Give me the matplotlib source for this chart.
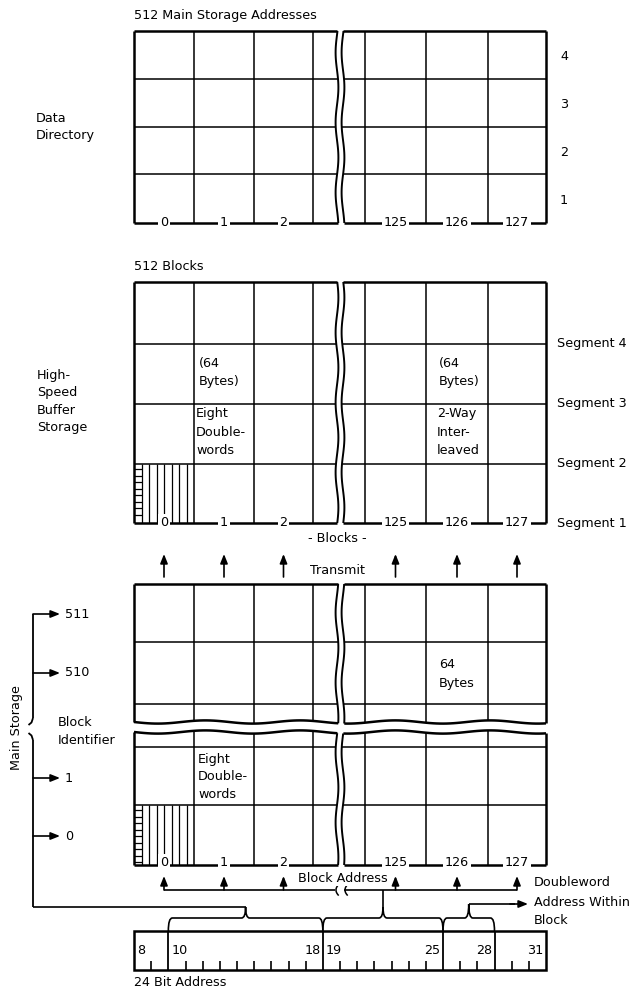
import numpy as np
import matplotlib.pyplot as plt
from matplotlib.path import Path
from matplotlib.patches import PathPatch

# ---- chart content ----
block_labels = ['0', '1', '2', '125', '126', '127']
directory_rows = ['4', '3', '2', '1']
segment_labels = ['Segment 4', 'Segment 3', 'Segment 2', 'Segment 1']
storage_rows = ['511', '510', '1', '0']
first_bit, last_bit = 8, 31
field_starts = [10, 19, 26, 29]
bit_numbers_left = [8, 10, 19]
bit_numbers_right = [18, 25, 28, 31]

# ---- layout (pixels, y grows downward) ----
W, H = 639, 994
XL, XR = 134, 546
cols_left = [134, 194, 254, 313]
cols_right = [365, 426, 488, 546]
WAVE_L, WAVE_R = 337, 343
LW_THICK = 1.8
LW_THIN = 1.1
FS = 9.2
FONT = 'DejaVu Sans'

fig = plt.figure(figsize=(W / 100, H / 100), dpi=100)
ax = fig.add_axes([0, 0, 1, 1])
ax.set_xlim(0, W)
ax.set_ylim(H, 0)
ax.axis('off')

plt.rcParams['font.family'] = FONT


def wave_x(x0, y):
    return x0 + 1.4 * np.sin(2 * np.pi * y / 70.0)


def wave_y(y0, x):
    return y0 + 1.6 * np.sin(2 * np.pi * (x - 134) / 95.0)


def line(xs, ys, lw=LW_THIN):
    ax.plot(xs, ys, color='black', lw=lw, solid_capstyle='butt')


def txt(x, y, s, ha='center', va='center', box=False, **kw):
    bbox = dict(fc='white', ec='none', pad=1.2) if box else None
    ax.text(x, y, s, ha=ha, va=va, fontsize=kw.pop('fontsize', FS),
            bbox=bbox, color='black', **kw)


def grid(y_top, y_bot, hlines, top_wave=False, bot_wave=False):
    def ytop(x):
        return wave_y(y_top, x) if top_wave else y_top

    def ybot(x):
        return wave_y(y_bot, x) if bot_wave else y_bot

    # horizontal lines (split by the vertical break)
    for y, lw, wv in [(y_top, LW_THICK, top_wave), (y_bot, LW_THICK, bot_wave)] + \
            [(h, LW_THIN, False) for h in hlines]:
        xa = np.linspace(XL, wave_x(WAVE_L, y), 60)
        xb = np.linspace(wave_x(WAVE_R, y), XR, 60)
        for xs in (xa, xb):
            ys = wave_y(y, xs) if wv else np.full_like(xs, y)
            line(xs, ys, lw)
    # vertical lines
    for x in cols_left + cols_right:
        lw = LW_THICK if x in (XL, XR) else LW_THIN
        line([x, x], [ytop(x), ybot(x)], lw)
    # wavy break
    for x0 in (WAVE_L, WAVE_R):
        ys = np.linspace(ytop(x0), ybot(x0), 80)
        line(wave_x(x0, ys), ys, LW_THIN + 0.3)


def centers():
    b = cols_left[:]
    c = [(b[i] + b[i + 1]) / 2 for i in range(3)]
    b = cols_right[:]
    c += [(b[i] + b[i + 1]) / 2 for i in range(3)]
    return c


def hatch(y0, y1):
    for k in range(1, 8):
        x = XL + 7.5 * k
        line([x, x], [y0, y1], 0.9)
    for y in np.arange(y0 + 5, y1 - 2, 6.5):
        line([XL, XL + 7.5], [y, y], 0.9)


def up_arrow(x, base, tip):
    ax.annotate('', xy=(x, tip), xytext=(x, base),
                arrowprops=dict(arrowstyle='-|>,head_length=0.55,head_width=0.22',
                                color='black', lw=1.2, shrinkA=0, shrinkB=0))


def right_arrow(x0, x1, y):
    ax.annotate('', xy=(x1, y), xytext=(x0, y),
                arrowprops=dict(arrowstyle='-|>,head_length=0.55,head_width=0.22',
                                color='black', lw=1.2, shrinkA=0, shrinkB=0))


def brace(x0, x1, xtip, ybase, ybar, ytip):
    r = 4
    verts = [(x0, ybase), (x0, ybar), (x0 + r, ybar),
             (xtip - r, ybar), (xtip, ybar), (xtip, ytip),
             (xtip, ytip), (xtip, ybar), (xtip + r, ybar),
             (x1 - r, ybar), (x1, ybar), (x1, ybase)]
    codes = [Path.MOVETO, Path.CURVE3, Path.CURVE3,
             Path.LINETO, Path.CURVE3, Path.CURVE3,
             Path.MOVETO, Path.CURVE3, Path.CURVE3,
             Path.LINETO, Path.CURVE3, Path.CURVE3]
    ax.add_patch(PathPatch(Path(verts, codes), fc='none', ec='black', lw=1.2))


cx = centers()

# ================= Data Directory =================
txt(XL, 15, '512 Main Storage Addresses', ha='left')
top_rows = [31, 79, 127, 174, 223]
grid(top_rows[0], top_rows[-1], top_rows[1:-1])
for lab, ya, yb in zip(directory_rows, top_rows[:-1], top_rows[1:]):
    txt(564, (ya + yb) / 2 + 2, lab)
for lab, x in zip(block_labels, cx):
    txt(x, 222, lab, box=True)
txt(36, 118, 'Data', ha='left')
txt(36, 136, 'Directory', ha='left')

# ================= High-Speed Buffer =================
txt(XL, 267, '512 Blocks', ha='left')
buf_rows = [282, 344, 404, 464, 523]
grid(buf_rows[0], buf_rows[-1], buf_rows[1:-1])
hatch(buf_rows[3], buf_rows[4])
for lab, y in zip(segment_labels, buf_rows[1:]):
    txt(557, y, lab, ha='left')
for lab, x in zip(block_labels, cx):
    txt(x, 522, lab, box=True)
txt(337, 539, '- Blocks -')
for i, s in enumerate(['High-', 'Speed', 'Buffer', 'Storage']):
    txt(37, 375 + 17.5 * i, s, ha='left')
for i, s in enumerate(['(64', 'Bytes)']):
    txt(199, 364 + 18 * i, s, ha='left')
    txt(439, 364 + 18 * i, s, ha='left')
for i, s in enumerate(['Eight', 'Double-', 'words']):
    txt(196, 414 + 18 * i, s, ha='left')
for i, s in enumerate(['2-Way', 'Inter-', 'leaved']):
    txt(437, 414 + 18 * i, s, ha='left')

# transmit arrows
for x in cx:
    up_arrow(x, 577, 554)
txt(337, 571, 'Transmit')

# ================= Main Storage =================
grid(584, 722, [642, 704], bot_wave=True)
grid(732, 865, [747, 805], top_wave=True)
hatch(805, 865)
for lab, x in zip(block_labels, cx):
    txt(x, 862, lab, box=True)
for i, s in enumerate(['64', 'Bytes']):
    txt(439, 664 + 19 * i, s, ha='left')
for i, s in enumerate(['Eight', 'Double-', 'words']):
    txt(198, 759 + 18 * i, s, ha='left')

# main storage bracket on the left
BX = 33
row_y = [614, 673, 778, 836]
line([BX, BX], [row_y[0], 718], 1.3)
line([BX, BX - 1.5, BX - 4.5], [718, 722.5, 725], 1.3)
line([BX - 4.5, BX - 1.5, BX], [733, 735.5, 740], 1.3)
line([BX, BX], [740, 907], 1.3)
for lab, y in zip(storage_rows, row_y):
    right_arrow(BX, 60, y)
    txt(65, y, lab, ha='left')
txt(17, 728, 'Main Storage', rotation=90)
txt(58, 722, 'Block', ha='left')
txt(58, 740, 'Identifier', ha='left')

# block address arrows
YA = 890
line([cx[0], WAVE_L - 2], [YA, YA], 1.2)
line([WAVE_R + 1, cx[-1]], [YA, YA], 1.2)
for x0 in (WAVE_L - 1, WAVE_R + 2):
    t = np.linspace(-1, 1, 20)
    ax.plot(x0 + 2.2 * t ** 2, YA + 5 * t, color='black', lw=1.1)
for x in cx:
    up_arrow(x, YA, 876)
txt(343, 878, 'Block Address', box=True)
txt(534, 883, 'Doubleword', ha='left')
txt(534, 902, 'Address Within', ha='left')
txt(534, 920, 'Block', ha='left')

# ================= 24 bit address register =================
RT, RB = 931, 970
bw = (XR - XL) / (last_bit - first_bit + 1)


def bit_x(b):
    return XL + (b - first_bit) * bw


ax.add_patch(plt.Rectangle((XL, RT), XR - XL, RB - RT, fc='none',
                           ec='black', lw=LW_THICK))
for b in field_starts:
    line([bit_x(b), bit_x(b)], [RT, RB], 1.3)
for b in range(first_bit + 1, last_bit + 1):
    if b not in field_starts:
        line([bit_x(b), bit_x(b)], [RB - 9, RB], 1.2)
for b in bit_numbers_left:
    txt(bit_x(b) + 3, 950, str(b), ha='left')
for b in bit_numbers_right:
    txt(bit_x(b + 1) - 2.5, 950, str(b), ha='right')
txt(XL, 983, '24 Bit Address', ha='left')

# braces over the fields
xt1 = (bit_x(10) + bit_x(19)) / 2
xt2 = 383
xt3 = (bit_x(26) + bit_x(29)) / 2
brace(bit_x(10), bit_x(19), xt1, RT, 918, 907)
brace(bit_x(19), bit_x(26), xt2, RT, 918, 907)
brace(bit_x(26), bit_x(29), xt3, RT, 918, 904)
line([BX, xt1], [907, 907], 1.2)
line([xt2, xt2], [907, YA], 1.2)
line([xt3, 515], [904, 904], 1.2)
right_arrow(510, 528, 904)

fig.savefig('out.png', dpi=100, facecolor='white')
